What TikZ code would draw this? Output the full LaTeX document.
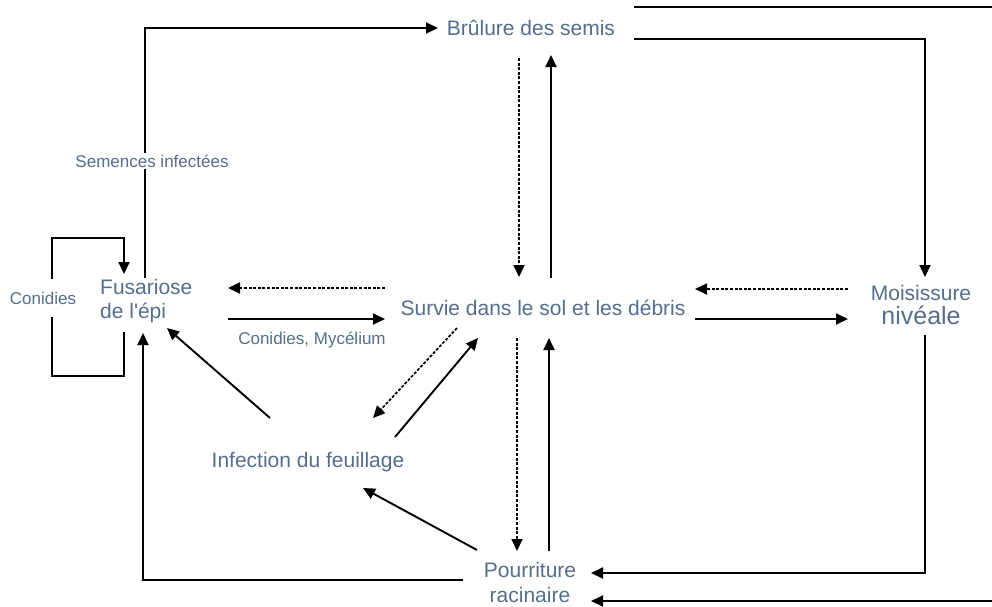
\documentclass[tikz,border=0pt]{standalone}
\usepackage{fontspec}
\setmainfont{Liberation Sans}
\usetikzlibrary{arrows.meta}
\definecolor{txt}{RGB}{84,110,140}
\begin{document}
\begin{tikzpicture}[x=1pt,y=-1pt,
  lbl/.style={text=txt,font=\fontsize{21}{24}\selectfont,inner sep=1pt},
  small/.style={text=txt,font=\fontsize{17}{20}\selectfont,inner sep=2pt,fill=white},
  conn/.style={line width=1.9pt,-{Triangle[length=12pt,width=11pt]}},
  dconn/.style={conn,dash pattern=on 3pt off 1.6pt,line width=1.7pt},
  plainline/.style={line width=1.9pt}]
\useasboundingbox (0,0) rectangle (992,606);
% main nodes
\node[lbl] (bru) at (531,28) {Brûlure des semis};
\node[lbl,align=left,anchor=west] (fus) at (99,301) {Fusariose\\de l\textquotesingle épi};
\node[lbl] (sur) at (543,308) {Survie dans le sol et les débris};
\node[lbl,align=center] (moi) at (921,305) {Moisissure\\{\fontsize{25}{28}\selectfont nivéale}};
\node[lbl] (inf) at (308,462) {Infection du feuillage};
\node[lbl,align=center] (pou) at (530,582) {Pourriture\\[1pt]racinaire};
% connector end points
\coordinate (fusTop) at (145,278);
\coordinate (bruL) at (438,28);
\coordinate (loopA) at (124,332);
\coordinate (loopB) at (124,274);
\coordinate (fusR1) at (228,288);
\coordinate (surL1) at (385,288);
\coordinate (fusR2) at (228,319);
\coordinate (surL2) at (385,319);
\coordinate (surR1) at (695,289);
\coordinate (moiL1) at (848,289);
\coordinate (surR2) at (695,319);
\coordinate (moiL2) at (848,319);
\coordinate (bruR2) at (634,39);
\coordinate (moiTop) at (925,277);
\coordinate (bruR1) at (634,7);
\coordinate (edgeTR) at (993,7);
\coordinate (edgeBR) at (993,601);
\coordinate (pouR2) at (591,601);
\coordinate (moiBot) at (925,335);
\coordinate (pouR1) at (591,573);
\coordinate (bruB1) at (519,58);
\coordinate (surT1) at (519,277);
\coordinate (surT2) at (551,278);
\coordinate (bruB2) at (551,55);
\coordinate (surB1) at (517,338);
\coordinate (pouT1) at (517,551);
\coordinate (pouT2) at (549,551);
\coordinate (surB2) at (549,338);
\coordinate (surD1) at (457,328);
\coordinate (infU1) at (373,418);
\coordinate (infU2) at (395,437);
\coordinate (surD2) at (478,338);
\coordinate (infUL) at (270,418);
\coordinate (fusD) at (167,328);
\coordinate (pouUL) at (477,550);
\coordinate (infDR) at (363,488);
\coordinate (pouL) at (463,580);
\coordinate (fusB) at (143,333);
% connectors
\draw[conn] (fusTop) |- (bruL);
\node[small] (sem) at (152,161) {Semences infectées};
\draw[conn] (loopA) -- (124,376) -| (52,238) -| (loopB);
\node[small,minimum height=38pt] (con) at (43,298) {Conidies};
\draw[dconn] (surL1) -- (fusR1);
\draw[conn] (fusR2) -- (surL2);
\node[small,fill=none] (cm) at (312,340) {Conidies, Mycélium};
\draw[dconn] (moiL1) -- (surR1);
\draw[conn] (surR2) -- (moiL2);
\draw[conn] (bruR2) -| (moiTop);
\draw[conn] (bruR1) -- (edgeTR) -- (edgeBR) -- (pouR2);
\draw[conn] (moiBot) |- (pouR1);
\draw[dconn] (bruB1) -- (surT1);
\draw[conn] (surT2) -- (bruB2);
\draw[dconn] (surB1) -- (pouT1);
\draw[conn] (pouT2) -- (surB2);
\draw[dconn] (surD1) -- (infU1);
\draw[conn] (infU2) -- (surD2);
\draw[conn] (infUL) -- (fusD);
\draw[conn] (pouUL) -- (infDR);
\draw[conn] (pouL) -| (fusB);
\end{tikzpicture}
\end{document}
